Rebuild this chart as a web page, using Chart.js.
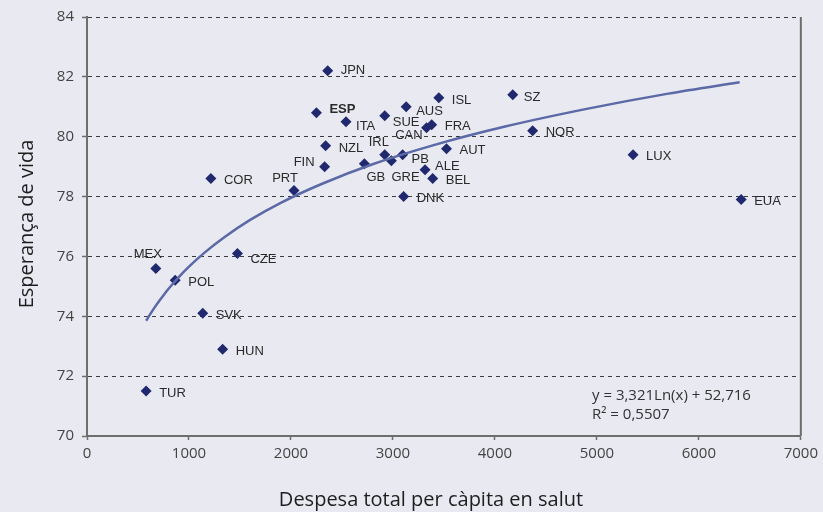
<!DOCTYPE html>
<html>
<head>
<meta charset="utf-8">
<script src="https://cdn.jsdelivr.net/npm/chart.js@4.4.0/dist/chart.umd.min.js"></script>
<style>
  html, body { margin: 0; padding: 0; background: #e8e9f1; }
  #wrap { width: 823px; height: 512px; }
</style>
</head>
<body>
<div id="wrap"><canvas id="lifeChart" width="823" height="512"></canvas></div>
<script>
// Countries and values.
const countries = ['JPN', 'ESP', 'ITA', 'NZL', 'FIN', 'PRT', 'COR', 'IRL', 'GB', 'GRE', 'PB', 'SUE', 'AUS', 'ISL',
  'CAN', 'FRA', 'AUT', 'ALE', 'BEL', 'DNK', 'SZ', 'NOR', 'LUX', 'EUA', 'MEX', 'CZE', 'POL', 'SVK', 'HUN', 'TUR'];
const spending = [2360, 2250, 2540, 2340, 2330, 2030, 1215, 2920, 2720, 2985, 3095, 2920, 3130, 3450,
  3330, 3380, 3525, 3315, 3390, 3105, 4175, 4370, 5355, 6415, 675, 1475, 865, 1135, 1330, 580];
const lifeExp = [82.2, 80.8, 80.5, 79.7, 79.0, 78.2, 78.6, 79.4, 79.1, 79.2, 79.4, 80.7, 81.0, 81.3,
  80.3, 80.4, 79.6, 78.9, 78.6, 78.0, 81.4, 80.2, 79.4, 77.9, 75.6, 76.1, 75.2, 74.1, 72.9, 71.5];

// Logarithmic trend line.
const trendX = [580, 620, 670, 730, 800, 900, 1000, 1150, 1350, 1600, 1900, 2300, 2800, 3400, 4100, 4900, 5700, 6400];
const trendY = [73.85, 74.07, 74.33, 74.61, 74.92, 75.31, 75.66, 76.12, 76.65, 77.22, 77.79, 78.42,
  79.08, 79.72, 80.34, 80.93, 81.44, 81.82];

const xTicks = [0, 1000, 2000, 3000, 4000, 5000, 6000, 7000];
const yTicks = [70, 72, 74, 76, 78, 80, 82, 84];

const equationLines = ['y = 3,321Ln(x) + 52,716', 'R² = 0,5507'];

// Label placement around the markers (default: right of the point).
const labelOffsets = {
  ESP: { dx: 13, dy: -3 },
  ITA: { dx: 10, dy: 5 },
  NZL: { dx: 13, dy: 3 },
  FIN: { dx: -10, dy: -4, align: 'right' },
  PRT: { dx: -9, dy: -12, align: 'center' },
  IRL: { dx: -6, dy: -12, align: 'center' },
  CAN: { dx: -4, dy: 8, align: 'right' },
  SUE: { dx: 8, dy: 7 },
  AUS: { dx: 10, dy: 5 },
  ISL: { dx: 13, dy: 3 },
  GB: { dx: 2, dy: 14 },
  GRE: { dx: 0, dy: 17 },
  PB: { dx: 9, dy: 5 },
  ALE: { dx: 10, dy: -3 },
  SZ: { dx: 11, dy: 3 },
  MEX: { dx: -8, dy: -14, align: 'center' },
  CZE: { dx: 13, dy: 6 },
  JPN: { dx: 13, dy: 0 }
};

const points = spending.map((x, i) => ({ x: x, y: lifeExp[i] }));
const trend = trendX.map((x, i) => ({ x: x, y: trendY[i] }));

// Country names, axis titles and the equation box text.
const textPlugin = {
  id: 'texts',
  afterDatasetsDraw(chart) {
    const ctx = chart.ctx;
    const meta = chart.getDatasetMeta(1);
    ctx.save();
    ctx.fillStyle = '#2a2a2a';
    ctx.textBaseline = 'middle';
    meta.data.forEach((pt, i) => {
      const name = countries[i];
      const off = labelOffsets[name] || { dx: 13, dy: 2 };
      ctx.font = (name === 'ESP' ? 'bold ' : '') + '13px "Liberation Sans", Arial, sans-serif';
      ctx.textAlign = off.align || 'left';
      ctx.fillText(name, pt.x + off.dx, pt.y + off.dy);
    });
    ctx.restore();
  },
  afterDraw(chart) {
    const ctx = chart.ctx;
    const area = chart.chartArea;
    ctx.save();
    // right frame line
    ctx.strokeStyle = '#6e6e6e';
    ctx.lineWidth = 2;
    ctx.beginPath();
    ctx.moveTo(area.right, area.top);
    ctx.lineTo(area.right, area.bottom);
    ctx.stroke();

    ctx.fillStyle = '#333';
    ctx.font = '15px "Open Sans", sans-serif';
    ctx.textAlign = 'left';
    ctx.textBaseline = 'middle';
    ctx.fillText(equationLines[0], 592, 396);
    ctx.fillText(equationLines[1], 592, 415);

    ctx.fillStyle = '#1e1e1e';
    ctx.font = '20px "Open Sans", sans-serif';
    ctx.textAlign = 'center';
    ctx.textBaseline = 'alphabetic';
    ctx.fillText('Despesa total per càpita en salut', 431, 506);

    ctx.translate(33, 224);
    ctx.rotate(-Math.PI / 2);
    ctx.fillText('Esperança de vida', 0, 0);
    ctx.restore();
  }
};

new Chart('lifeChart', {
  type: 'scatter',
  data: {
    datasets: [
      {
        type: 'line',
        label: 'Tendència',
        data: trend,
        borderColor: '#5b69a6',
        borderWidth: 2.5,
        pointRadius: 0,
        cubicInterpolationMode: 'monotone',
        fill: false
      },
      {
        label: 'Països',
        data: points,
        pointStyle: 'rectRot',
        pointRadius: 5.5,
        backgroundColor: '#20296e',
        borderColor: '#20296e',
        borderWidth: 0
      }
    ]
  },
  options: {
    responsive: false,
    animation: false,
    layout: { padding: { top: 17, right: 20, left: 0, bottom: 0 } },
    plugins: { legend: { display: false }, tooltip: { enabled: false } },
    scales: {
      x: {
        type: 'linear',
        min: 0,
        max: 7000,
        afterBuildTicks: (scale) => { scale.ticks = xTicks.map(v => ({ value: v })); },
        afterFit: (scale) => { scale.height = 76; },
        border: { display: true, color: '#6e6e6e', width: 2 },
        grid: {
          drawOnChartArea: false,
          drawTicks: true,
          tickLength: 4,
          tickColor: '#6e6e6e',
          tickWidth: 1.5,
          color: '#6e6e6e'
        },
        ticks: {
          padding: 5,
          color: '#444',
          font: { family: '"Open Sans", sans-serif', size: 15 },
          callback: (v) => String(v)
        }
      },
      y: {
        min: 70,
        max: 84,
        afterBuildTicks: (scale) => { scale.ticks = yTicks.map(v => ({ value: v })); },
        afterFit: (scale) => { scale.width = 87; },
        border: { display: true, color: '#6e6e6e', width: 2, dash: [4, 4] },
        grid: {
          drawOnChartArea: true,
          drawTicks: true,
          tickLength: 5,
          tickColor: '#6e6e6e',
          tickWidth: 1.5,
          tickBorderDash: [],
          color: (c) => (c.tick && c.tick.value === 70) ? 'transparent' : '#3a3a3a',
          lineWidth: 1
        },
        ticks: {
          padding: 8,
          color: '#444',
          font: { family: '"Open Sans", sans-serif', size: 15 },
          callback: (v) => String(v)
        }
      }
    }
  },
  plugins: [textPlugin]
});
</script>
</body>
</html>
